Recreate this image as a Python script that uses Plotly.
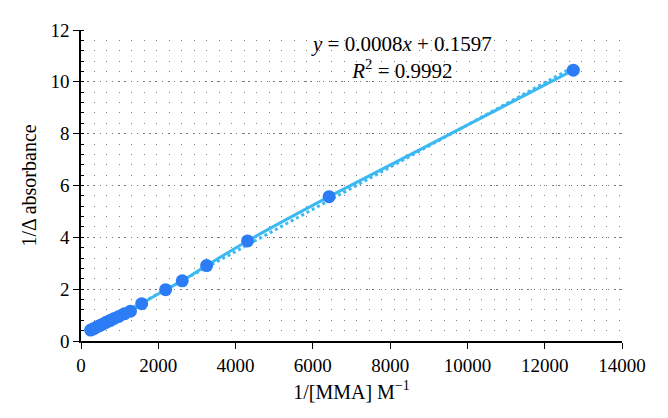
import numpy as np
import plotly.graph_objects as go

# Data
inv_mma = [250, 320, 400, 480, 560, 650, 750, 860, 980, 1120, 1280,
           1570, 2190, 2620, 3250, 4310, 6420, 12740]
inv_abs = [0.42, 0.47, 0.53, 0.59, 0.65, 0.72, 0.79, 0.87, 0.95, 1.05, 1.15,
           1.44, 1.98, 2.32, 2.91, 3.86, 5.57, 10.45]

x_ticks = [0, 2000, 4000, 6000, 8000, 10000, 12000, 14000]
y_ticks = [0, 2, 4, 6, 8, 10, 12]

eq_text = "<i>y</i> = 0.0008<i>x</i> + 0.1597<br><i>R</i><sup>2</sup> = 0.9992"

# Linear trendline fitted to the data
slope, intercept = np.polyfit(inv_mma, inv_abs, 1)
trend_x = [min(inv_mma), max(inv_mma)]
trend_y = [slope * v + intercept for v in trend_x]

LINE = "#3DB9F2"
MARK = "#2C7DF5"
FONT = "Liberation Serif"

fig = go.Figure()
fig.add_trace(go.Scatter(x=inv_mma, y=inv_abs, mode="lines",
                         line=dict(color=LINE, width=3, shape="spline", smoothing=0.6),
                         hoverinfo="skip", showlegend=False))
fig.add_trace(go.Scatter(x=trend_x, y=trend_y, mode="lines",
                         line=dict(color=LINE, width=3, dash="dot"),
                         hoverinfo="skip", showlegend=False))
fig.add_trace(go.Scatter(x=inv_mma, y=inv_abs, mode="markers",
                         marker=dict(color=MARK, size=13),
                         showlegend=False))

fig.add_annotation(x=0.592, y=1.0, xref="paper", yref="paper",
                   text=eq_text, showarrow=False, align="center",
                   xanchor="center", yanchor="top",
                   font=dict(family=FONT, size=21, color="black"))

fig.update_layout(
    width=668, height=418,
    margin=dict(l=73, r=54, t=13, b=85),
    paper_bgcolor="white", plot_bgcolor="white",
    font=dict(family=FONT, size=19, color="black"),
    xaxis=dict(
        range=[0, 14000], tickvals=x_ticks, ticktext=[str(v) for v in x_ticks],
        showgrid=False, zeroline=False,
        showline=True, linecolor="black", linewidth=1.5,
        ticks="outside", ticklen=6, tickwidth=1.2, tickcolor="black",
        title=dict(text="1/[MMA] M<sup>−1</sup>", font=dict(size=20), standoff=10),
    ),
    yaxis=dict(
        range=[0, 12], tickvals=y_ticks, ticktext=[str(v) for v in y_ticks],
        showgrid=True, gridcolor="#777777", gridwidth=1.3, griddash="1.3px,4.9px",
        zeroline=False,
        showline=True, linecolor="black", linewidth=1.5,
        ticks="outside", ticklen=6, tickwidth=1.2, tickcolor="black",
        minor=dict(dtick=0.4, showgrid=True, gridcolor="#808080", gridwidth=1.3,
                   griddash="1.3px,11.2px", ticks="inside", ticklen=3,
                   tickwidth=1, tickcolor="black"),
        title=dict(text="1/Δ absorbance", font=dict(size=20), standoff=8),
    ),
)

fig.write_html("out.html")
